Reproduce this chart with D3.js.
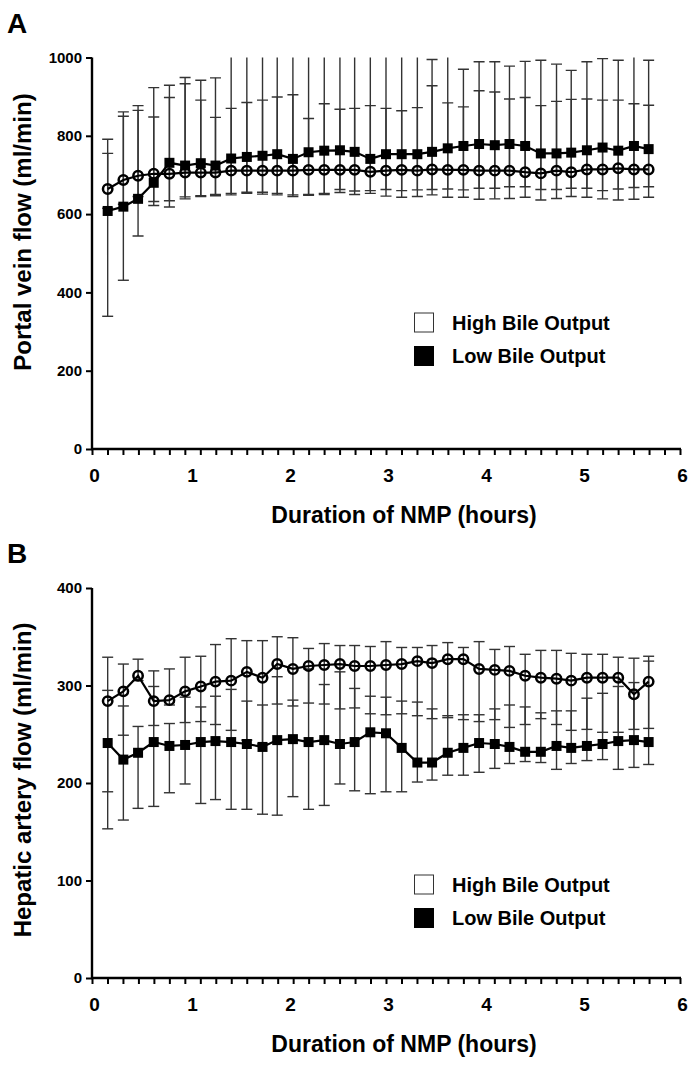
<!DOCTYPE html>
<html><head><meta charset="utf-8">
<script src="https://cdn.jsdelivr.net/npm/d3@7/dist/d3.min.js"></script>
<style>
html,body{margin:0;padding:0;background:#fff;}
svg text{font-family:"Liberation Sans",Arial,Helvetica,sans-serif;font-weight:bold;fill:#000;}
</style></head>
<body>
<svg id="chart" width="688" height="1069"></svg>
<script>
// ---- data ----
const timeHours = [0.16,0.32,0.47,0.63,0.79,0.95,1.11,1.26,1.42,1.58,1.74,1.89,2.05,2.21,2.37,2.53,2.68,2.84,3.00,3.16,3.32,3.47,3.63,3.79,3.95,4.11,4.26,4.42,4.58,4.74,4.89,5.05,5.21,5.37,5.53,5.68];
const xTickLabels = [0,1,2,3,4,5,6];
const seriesNames = ["High Bile Output","Low Bile Output"];

// Panel A: portal vein flow (ml/min)
const pvHigh = [664,687,698,703,703,706,706,706,711,711,711,711,711,713,713,713,713,708,711,713,711,714,713,713,711,711,711,707,704,711,707,714,714,717,714,714];
const pvHighUpper = [755,850,865,848,898,933,891,847,870,885,891,899,905,844,882,868,870,877,870,864,872,928,884,874,915,912,894,898,877,888,893,894,891,891,882,878];
const pvHighLower = [615,625,645,632,634,644,647,650,653,656,656,653,649,650,653,663,659,660,663,660,662,663,664,662,666,666,670,670,663,663,666,666,660,664,668,670];
const pvLow = [608,619,639,680,731,724,730,724,742,746,749,753,741,758,762,763,759,741,753,753,753,759,768,774,779,776,779,774,755,755,757,763,770,762,774,766];
const pvLowUpper = [791,861,877,923,929,949,942,948,1050,1050,1050,1050,1050,1050,1050,1050,1050,1050,1050,1050,1050,995,1050,970,989,989,978,990,993,983,967,989,997,993,1050,993];
const pvLowLower = [339,431,544,622,618,639,645,647,649,653,651,649,645,648,650,655,650,653,646,643,645,649,643,643,638,639,640,643,636,640,645,643,639,636,638,643];
const pvTicks = [0,200,400,600,800,1000];

// Panel B: hepatic artery flow (ml/min)
const haHigh = [284,294,310,284,285,294,299,304,305,314,308,322,317,320,321,322,320,320,321,322,325,323,327,327,317,316,315,310,308,307,305,308,308,308,291,304];
const haHighUpper = [329,322,327,315,317,329,330,342,348,346,346,350,349,338,343,341,341,340,345,339,339,341,344,339,345,337,340,332,336,336,333,332,332,329,328,330];
const haHighLower = [191,249,305,259,280,262,263,260,254,244,240,281,279,282,281,276,277,271,270,271,269,266,267,265,263,265,257,260,266,260,254,255,252,252,255,256];
const haLow = [241,224,231,242,238,239,242,243,242,240,237,244,245,242,244,240,242,252,251,236,221,221,231,236,241,240,237,232,232,238,236,238,240,243,244,242];
const haLowUpper = [295,279,258,299,261,288,278,289,296,284,280,309,285,317,301,314,297,289,288,284,283,276,269,270,270,276,280,278,272,274,274,287,292,299,303,325];
const haLowLower = [153,162,174,176,190,199,179,183,173,173,168,167,186,173,177,199,192,189,191,191,201,203,208,208,211,215,220,222,221,214,220,223,224,214,216,219];
const haTicks = [0,100,200,300,400];

// ---- drawing ----
const svg = d3.select("#chart");
const x = d3.scaleLinear().domain([0,6]).range([92,680]);
const minorTicks = d3.range(0,39).map(i => i*6/38);

function panel(cfg){
  const g = svg.append("g");
  const y = d3.scaleLinear().domain([0, cfg.yMax]).range([cfg.bottom, cfg.top]);
  const clipId = "clip" + cfg.id;
  svg.append("clipPath").attr("id", clipId).append("rect")
    .attr("x", 0).attr("y", cfg.top).attr("width", 688).attr("height", cfg.bottom - cfg.top + 20);

  // panel letter
  g.append("text").attr("x", 7).attr("y", cfg.top - 25).attr("font-size", 28).text(cfg.letter);

  // y axis
  const ya = g.append("g").attr("transform", `translate(${x(0)},0)`)
    .call(d3.axisLeft(y).tickValues(cfg.ticks).tickSize(6).tickPadding(4).tickFormat(d3.format("d")));
  ya.select(".domain").attr("stroke","#000").attr("stroke-width",2.4).attr("d", `M0,${cfg.bottom+1}V${cfg.top}`);
  ya.selectAll(".tick line").attr("stroke","#000").attr("stroke-width",2);
  ya.selectAll(".tick text").attr("font-size",15).style("font-family",'"Liberation Sans",Arial,sans-serif').style("font-weight","bold").attr("fill","#000");

  // x axis minor ticks
  const xa = g.append("g").attr("transform", `translate(0,${cfg.bottom})`)
    .call(d3.axisBottom(x).tickValues(minorTicks).tickSize(6).tickFormat(""));
  xa.select(".domain").attr("stroke","#000").attr("stroke-width",2.4).attr("d", `M${x(0)-1},0H${x(6)+1}`);
  xa.selectAll(".tick line").attr("stroke","#000").attr("stroke-width",2);
  // x labels
  const xl = g.append("g").attr("transform", `translate(2,${cfg.bottom})`)
    .call(d3.axisBottom(x).tickValues(xTickLabels).tickSize(0).tickPadding(20).tickFormat(d3.format("d")));
  xl.select(".domain").remove();
  xl.selectAll(".tick text").attr("font-size",19).style("font-family",'"Liberation Sans",Arial,sans-serif').style("font-weight","bold").attr("fill","#000");

  // titles
  g.append("text").attr("x", 404).attr("y", cfg.bottom + 74).attr("text-anchor","middle")
    .attr("font-size", 23).text("Duration of NMP (hours)");
  g.append("text").attr("transform", `translate(31,${cfg.titleY}) rotate(-90)`).attr("text-anchor","middle")
    .attr("font-size", 24).text(cfg.yTitle);

  // error bars
  const eb = g.append("g").attr("clip-path", `url(#${clipId})`);
  cfg.series.forEach(s => {
    timeHours.forEach((t,i) => {
      const cx = x(t);
      eb.append("line").attr("x1",cx).attr("x2",cx).attr("y1",y(s.lower[i])).attr("y2",y(s.upper[i]))
        .attr("stroke","#333").attr("stroke-width",1.4);
      [s.lower[i], s.upper[i]].forEach(v => {
        eb.append("line").attr("x1",cx-5.5).attr("x2",cx+5.5).attr("y1",y(v)).attr("y2",y(v))
          .attr("stroke","#333").attr("stroke-width",1.4);
      });
    });
  });
  // lines
  const line = d3.line().x((d,i) => x(timeHours[i])).y(d => y(d));
  cfg.series.forEach(s => {
    g.append("path").datum(s.mean).attr("d", line).attr("fill","none").attr("stroke","#000").attr("stroke-width",2.2);
  });
  // markers
  cfg.series.forEach(s => {
    if (s.shape === "circle") {
      g.selectAll(null).data(s.mean).enter().append("circle")
        .attr("cx",(d,i)=>x(timeHours[i])).attr("cy",d=>y(d)).attr("r",4.7)
        .attr("fill","none").attr("stroke","#000").attr("stroke-width",2.5);
    } else {
      g.selectAll(null).data(s.mean).enter().append("rect")
        .attr("x",(d,i)=>x(timeHours[i])-5).attr("y",d=>y(d)-5).attr("width",10).attr("height",10)
        .attr("fill","#000");
    }
  });
  // legend
  const lg = g.append("g");
  seriesNames.forEach((name,i) => {
    const cy = cfg.legendY + i*33.5;
    lg.append("rect").attr("x",414.5).attr("y",cy-9.5).attr("width",19).attr("height",19)
      .attr("fill", i===0 ? "#fff" : "#000").attr("stroke", i===0 ? "#333" : "#000").attr("stroke-width",1);
    lg.append("text").attr("x",452).attr("y",cy).attr("dy","0.36em").attr("font-size",20).text(name);
  });
}

panel({id:"A", letter:"A", top:57.5, bottom:449, yMax:1000, ticks:pvTicks, titleY:232,
  yTitle:"Portal vein flow (ml/min)", legendY:322.5,
  series:[
    {mean:pvHigh, upper:pvHighUpper, lower:pvHighLower, shape:"circle"},
    {mean:pvLow, upper:pvLowUpper, lower:pvLowLower, shape:"square"}
  ]});
panel({id:"B", letter:"B", top:588, bottom:978, yMax:400, ticks:haTicks, titleY:780,
  yTitle:"Hepatic artery flow (ml/min)", legendY:884.5,
  series:[
    {mean:haHigh, upper:haHighUpper, lower:haHighLower, shape:"circle"},
    {mean:haLow, upper:haLowUpper, lower:haLowLower, shape:"square"}
  ]});
</script>
</body></html>
